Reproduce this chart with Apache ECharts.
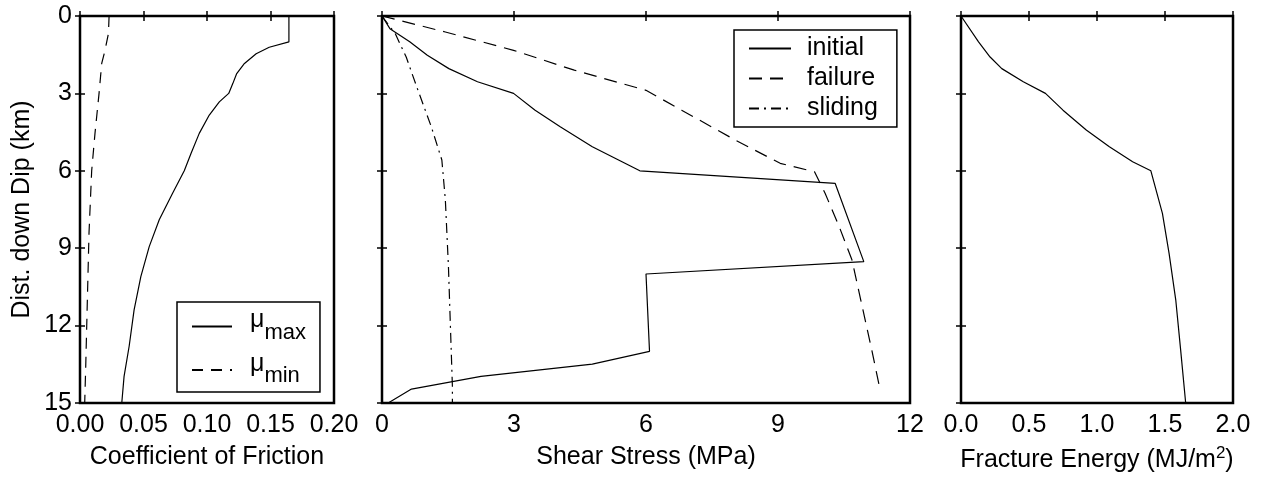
<!DOCTYPE html>
<html>
<head>
<meta charset="utf-8">
<script src="https://cdn.jsdelivr.net/npm/echarts@6/dist/echarts.min.js"></script>
<style>
	html, body { margin: 0; padding: 0; background: #fff; }
	#main { width: 1263px; height: 485px; }
</style>
<title>Friction, Stress and Fracture Energy vs Depth</title>
</head>
<body>
<div id="main"></div>
<script type="text/javascript">
// depth down dip (km) and values
var depthMuMax = [0, 1.0, 1.21, 1.46, 1.84, 2.23, 2.62, 3.0, 3.33, 3.84, 4.55, 5.33, 6.0, 6.87, 7.9, 8.94, 10.1, 11.39, 12.8, 13.97, 15];
var muMax = [0.1645, 0.1645, 0.149, 0.1387, 0.1295, 0.1234, 0.1203, 0.1171, 0.1097, 0.1018, 0.0939, 0.0874, 0.0821, 0.0729, 0.0624, 0.0545, 0.0479, 0.0426, 0.0387, 0.0347, 0.0329];

var depthMuMin = [0, 0.68, 1.33, 1.84, 3, 4.55, 6, 8.4, 11, 13.6, 15];
var muMin = [0.0229, 0.0224, 0.0197, 0.0171, 0.015, 0.0118, 0.0092, 0.0071, 0.0058, 0.0045, 0.0037];

var depthInitial = [0, 0.49, 1.0, 1.52, 2.04, 2.55, 3.0, 3.65, 4.29, 5.07, 6.0, 6.49, 9.52, 10.0, 13.0, 13.49, 13.97, 14.46, 15.0];
var stressInitial = [0, 0.18, 0.63, 1.03, 1.52, 2.17, 2.99, 3.48, 4.05, 4.78, 5.86, 10.30, 10.95, 6.0, 6.08, 4.78, 2.25, 0.67, 0.14];

var depthFailure = [0, 0.62, 1.33, 2.1, 2.88, 3.65, 4.81, 5.71, 6.04, 6.87, 8.16, 9.45, 11.0, 12.94, 14.4];
var stressFailure = [0, 1.44, 2.99, 4.37, 6.0, 6.81, 8.03, 9.05, 9.83, 10.07, 10.39, 10.68, 10.88, 11.13, 11.31];

var depthSliding = [0, 0.68, 1.59, 2.75, 4.29, 5.58, 7.13, 9.71, 12.29, 14.36, 15];
var stressSliding = [0, 0.3, 0.55, 0.79, 1.12, 1.36, 1.44, 1.51, 1.56, 1.60, 1.60];

var depthFracture = [0, 1.0, 1.59, 2.04, 2.55, 3.0, 3.65, 4.42, 5.07, 5.65, 6.0, 7.65, 9.2, 11.0, 12.94, 15];
var fractureEnergy = [0, 0.129, 0.214, 0.30, 0.458, 0.621, 0.750, 0.921, 1.091, 1.262, 1.396, 1.481, 1.530, 1.579, 1.615, 1.652];

var depthTicks = { min: 0, max: 15, interval: 3 };
var xRanges = [
	{ min: 0, max: 0.2, interval: 0.05, digits: 2 },
	{ min: 0, max: 12, interval: 3, digits: 0 },
	{ min: 0, max: 2, interval: 0.5, digits: 1 }
];
var xNames = ['Coefficient of Friction', 'Shear Stress (MPa)', 'Fracture Energy (MJ/m{sup|2})'];

var FONT = "'Liberation Sans', Helvetica, Arial, sans-serif";

function pairs(xs, ys) {
	var out = [];
	for (var i = 0; i < xs.length; i++) {
		out.push([xs[i], ys[i]]);
	}
	return out;
}

var grids = [
	{ left: 80, right: 929, top: 16, bottom: 82 },
	{ left: 382, right: 353, top: 16, bottom: 82 },
	{ left: 961, right: 30, top: 16, bottom: 82 }
];
grids.forEach(function(g) {
	g.show = true;
	g.borderColor = '#000';
	g.borderWidth = 2.5;
	g.containLabel = false;
});

var tick = { show: true, inside: true, length: 5, lineStyle: { color: '#000', width: 1.5 } };

var xAxes = [];
var yAxes = [];
xRanges.forEach(function(r, i) {
	// bottom axis with labels
	xAxes.push({
		type: 'value', gridIndex: i, position: 'bottom',
		min: r.min, max: r.max, interval: r.interval,
		axisLine: { show: false }, splitLine: { show: false },
		axisTick: tick,
		axisLabel: {
			color: '#000', fontFamily: FONT, fontSize: 25, margin: 10,
			formatter: function(v) { return v.toFixed(r.digits); }
		},
		name: xNames[i], nameLocation: 'middle', nameGap: 42,
		nameTextStyle: {
			color: '#000', fontFamily: FONT, fontSize: 25,
			rich: { sup: { fontFamily: FONT, fontSize: 17, color: '#000', padding: [0, 0, 14, 0] } }
		}
	});
	// top axis, ticks only
	xAxes.push({
		type: 'value', gridIndex: i, position: 'top',
		min: r.min, max: r.max, interval: r.interval,
		axisLine: { show: false }, splitLine: { show: false },
		axisTick: tick, axisLabel: { show: false }
	});
	yAxes.push({
		type: 'value', gridIndex: i, position: 'left', inverse: true,
		min: depthTicks.min, max: depthTicks.max, interval: depthTicks.interval,
		axisLine: { show: false }, splitLine: { show: false },
		axisTick: tick,
		axisLabel: { show: i === 0, color: '#000', fontFamily: FONT, fontSize: 25, margin: 8 },
		name: i === 0 ? 'Dist. down Dip (km)' : '',
		nameLocation: 'middle', nameGap: 45, nameRotate: 90,
		nameTextStyle: { color: '#000', fontFamily: FONT, fontSize: 25 }
	});
	yAxes.push({
		type: 'value', gridIndex: i, position: 'right', inverse: true,
		min: depthTicks.min, max: depthTicks.max, interval: depthTicks.interval,
		axisLine: { show: false }, splitLine: { show: false },
		axisTick: tick, axisLabel: { show: false }
	});
});

function lineSeries(name, xi, yi, data, type) {
	return {
		name: name, type: 'line', xAxisIndex: xi, yAxisIndex: yi,
		data: data, symbol: 'none', showSymbol: false, silent: true,
		animation: false,
		itemStyle: { color: '#000' },
		lineStyle: { color: '#000', width: 1.2, type: type }
	};
}

var legendText = {
	color: '#000', fontFamily: FONT, fontSize: 25,
	rich: {
		mu: { fontFamily: FONT, fontSize: 25, color: '#000', padding: [0, 0, 12, 0] },
		sub: { fontFamily: FONT, fontSize: 22, color: '#000', padding: [12, 0, 0, 0] }
	}
};
// hide the round marker that line legends draw, keep the line itself
var noMarker = { color: 'rgba(0,0,0,0)', borderColor: 'rgba(0,0,0,0)', borderWidth: 0 };

var option = {
	backgroundColor: '#fff',
	animation: false,
	grid: grids,
	xAxis: xAxes,
	yAxis: yAxes,
	legend: [
		{
			data: ['mu_max', 'mu_min'],
			orient: 'vertical', left: 177, top: 302,
			backgroundColor: '#fff', borderColor: '#000', borderWidth: 1.5, borderRadius: 0,
			padding: [6, 14, 5, 14], itemGap: 8, itemWidth: 40, itemHeight: 14,
			selectedMode: false,
			itemStyle: noMarker,
			formatter: function(name) {
				return name === 'mu_max' ? '{mu|\u03bc}{sub|max}' : '{mu|\u03bc}{sub|min}';
			},
			textStyle: Object.assign({ padding: [0, 0, 0, 13] }, legendText)
		},
		{
			data: ['initial', 'failure', 'sliding'],
			orient: 'vertical', left: 734, top: 30,
			backgroundColor: '#fff', borderColor: '#000', borderWidth: 1.5, borderRadius: 0,
			padding: [6, 19, 6, 14], itemGap: 5, itemWidth: 42, itemHeight: 14,
			selectedMode: false,
			itemStyle: noMarker,
			textStyle: { color: '#000', fontFamily: FONT, fontSize: 25, padding: [0, 0, 0, 11] }
		}
	],
	series: [
		lineSeries('mu_max', 0, 0, pairs(muMax, depthMuMax), 'solid'),
		lineSeries('mu_min', 0, 0, pairs(muMin, depthMuMin), [11, 8]),
		lineSeries('initial', 2, 2, pairs(stressInitial, depthInitial), 'solid'),
		lineSeries('failure', 2, 2, pairs(stressFailure, depthFailure), [13, 8]),
		lineSeries('sliding', 2, 2, pairs(stressSliding, depthSliding), [10, 5, 2, 5]),
		lineSeries('fracture', 4, 4, pairs(fractureEnergy, depthFracture), 'solid')
	]
};

var myChart = echarts.init(document.getElementById('main'), null, { renderer: 'canvas' });
myChart.setOption(option);
</script>
</body>
</html>
